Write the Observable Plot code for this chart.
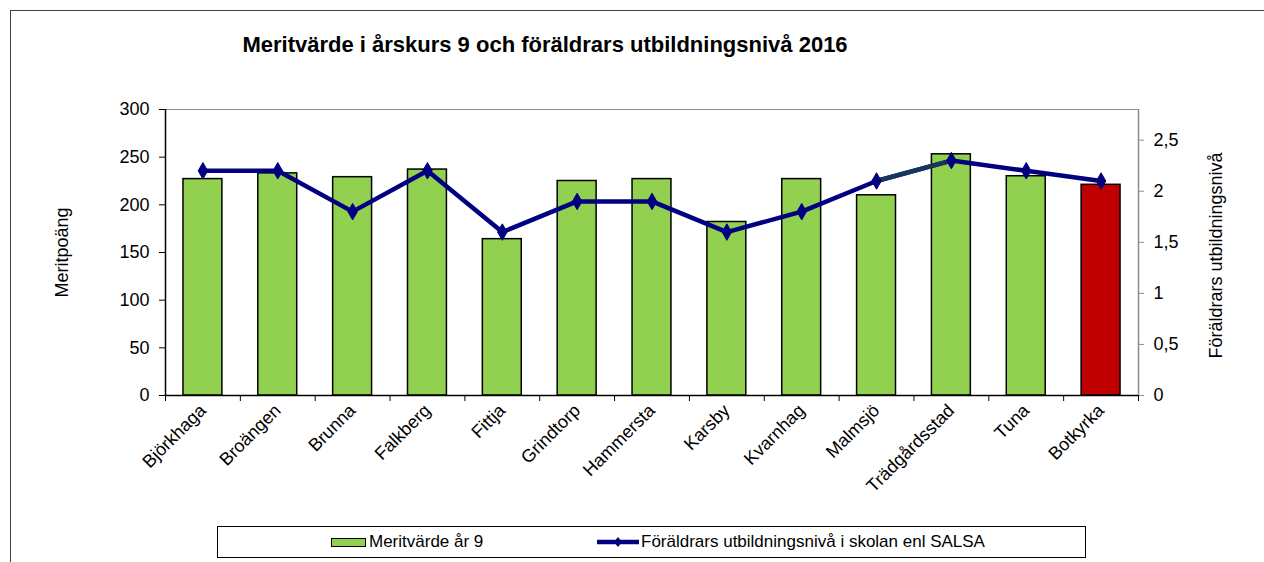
<!DOCTYPE html>
<html>
<head>
<meta charset="utf-8">
<script src="https://cdn.jsdelivr.net/npm/d3@7"></script>
<script src="https://cdn.jsdelivr.net/npm/@observablehq/plot@0.6"></script>
<style>
  html, body { margin: 0; padding: 0; background: #fff; overflow: hidden; }
  body { width: 1264px; height: 562px; position: relative; font-family: "Liberation Sans", Arial, sans-serif; }
  #frame { position: absolute; left: 10px; top: 10px; width: 1300px; height: 600px; border: 1px solid #404040; box-sizing: border-box; }
  #title { position: absolute; left: 0; top: 34px; width: 1090px; text-align: center; font-weight: bold; font-size: 22px; line-height: 22px; color: #000; }
  #chart { position: absolute; left: 0; top: 0; }
  #legend { position: absolute; left: 217px; top: 526px; width: 869px; height: 32px; border: 1px solid #000; box-sizing: border-box; font-size: 17px; color: #000; }
  .item { position: absolute; top: 0; height: 30px; display: flex; align-items: center; white-space: nowrap; }
  .sw { width: 35px; height: 9px; background: #92d050; border: 1.5px solid #000; box-sizing: border-box; margin-right: 3px; }
</style>
</head>
<body>
<div id="frame"></div>
<div id="chart"></div>
<div id="title">Meritvärde i årskurs 9 och föräldrars utbildningsnivå 2016</div>
<div id="legend">
  <div class="item" style="left:113px"><span class="sw"></span><span>Meritvärde år 9</span></div>
  <div class="item" style="left:378px"><svg width="44" height="12" style="margin-right:1px"><line x1="1" y1="6" x2="43" y2="6" stroke="#000080" stroke-width="4.5"/><path d="M22,1 L26,6 L22,11 L18,6 Z" fill="#000080"/></svg><span>Föräldrars utbildningsnivå i skolan enl SALSA</span></div>
</div>
<script>
const categories = ["Björkhaga","Broängen","Brunna","Falkberg","Fittja","Grindtorp","Hammersta","Karsby","Kvarnhag","Malmsjö","Trädgårdsstad","Tuna","Botkyrka"];
const meritvarde = [227, 233, 229, 237, 164, 225, 227, 182, 227, 210, 253, 230, 221];
const salsa = [2.2, 2.2, 1.8, 2.2, 1.6, 1.9, 1.9, 1.6, 1.8, 2.1, 2.3, 2.2, 2.1];
const leftTicks = [0, 50, 100, 150, 200, 250, 300];
const rightTicks = [0, 0.5, 1, 1.5, 2, 2.5];
const leftMax = 300;
const rightMax = 2.8;
const highlight = "Botkyrka";

const data = categories.map((c, i) => ({name: c, i, merit: meritvarde[i], salsa: salsa[i]}));
// map right-axis values onto the left scale's units
const toLeft = d3.scaleLinear().domain([0, rightMax]).range([0, leftMax]);
const fmtComma = v => String(v).replace(".", ",");
const malmIdx = categories.indexOf("Malmsjö");
const segment = data.slice(malmIdx, malmIdx + 2);

const chart = Plot.plot({
  width: 1264,
  height: 515,
  marginLeft: 165,
  marginRight: 126,
  marginTop: 109,
  marginBottom: 120,
  style: {fontFamily: "'Liberation Sans', Arial, sans-serif", fontSize: "18px", color: "#000", background: "transparent", overflow: "visible"},
  x: {type: "linear", domain: [0, categories.length]},
  y: {domain: [0, leftMax]},
  marks: [
    Plot.ruleY([leftMax], {stroke: "#8c8c8c", strokeWidth: 1.2}),
    Plot.ruleX([categories.length], {stroke: "#8c8c8c", strokeWidth: 1.5}),
    Plot.rectY(data, {
      x1: d => d.i + 0.24, x2: d => d.i + 0.76, y: "merit",
      fill: d => d.name === highlight ? "#c00000" : "#92d050",
      stroke: "#000", strokeWidth: 1.5
    }),
    Plot.ruleX([0], {stroke: "#000", strokeWidth: 1.5}),
    Plot.ruleY([0], {stroke: "#000", strokeWidth: 1.5}),
    Plot.line(data, {x: d => d.i + 0.5, y: d => toLeft(d.salsa), stroke: "#000080", strokeWidth: 4.5, strokeLinejoin: "round"}),
    Plot.line(segment, {x: d => d.i + 0.5, y: d => toLeft(d.salsa), stroke: "#17365d", strokeWidth: 4.5}),
    Plot.dot(data, {x: d => d.i + 0.5, y: d => toLeft(d.salsa), symbol: "diamond", r: 5, fill: "#000080", stroke: "#000080", strokeWidth: 1}),
    Plot.axisY(leftTicks, {anchor: "left", tickSize: 6, tickPadding: 10, stroke: "#000", label: null}),
    Plot.axisY(rightTicks.map(toLeft), {anchor: "right", tickSize: 5, tickPadding: 10, stroke: "#8c8c8c", fill: "#000", tickFormat: v => fmtComma(+toLeft.invert(v).toFixed(1)), label: null}),
    Plot.axisX(d3.range(0, categories.length + 1), {tickSize: 6, tickFormat: () => "", stroke: "#000", label: null}),
    Plot.axisX(data.map(d => d.i + 0.5), {tickSize: 0, tickPadding: 12, tickRotate: -45, tickFormat: v => categories[Math.round(v - 0.5)], label: null}),
    Plot.text(["Meritpoäng"], {text: d => d, frameAnchor: "left", textAnchor: "middle", rotate: -90, dx: -103, fontSize: 18}),
    Plot.text(["Föräldrars utbildningsnivå"], {text: d => d, frameAnchor: "right", textAnchor: "middle", rotate: -90, dx: 78, dy: 3, fontSize: 18})
  ]
});
document.getElementById("chart").appendChild(chart);
</script>
</body>
</html>
